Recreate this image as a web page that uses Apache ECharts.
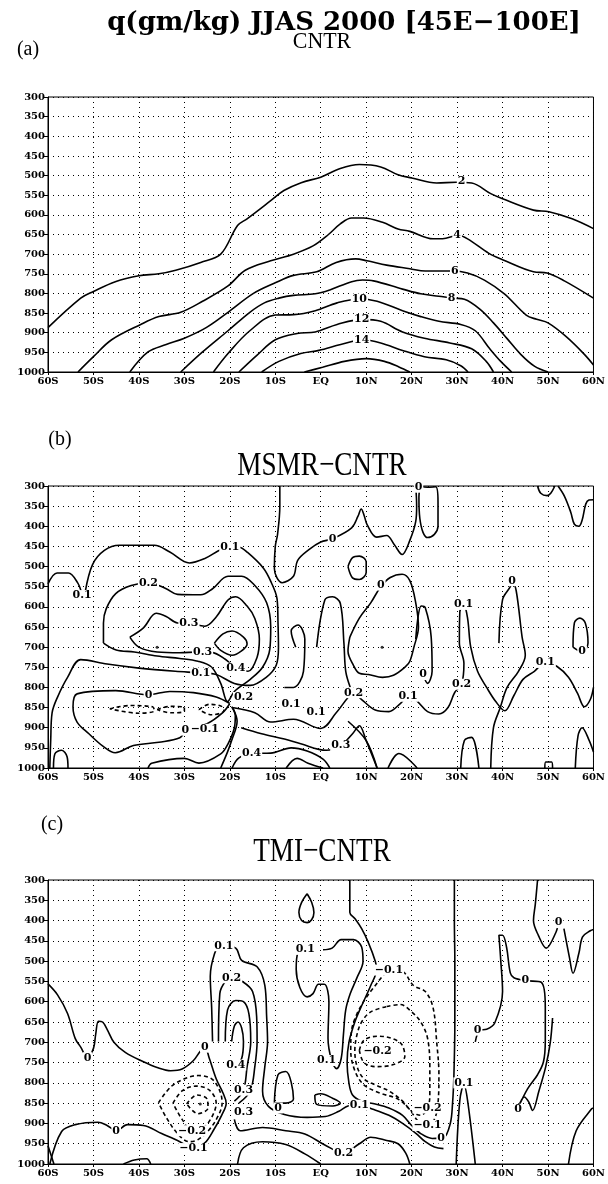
<!DOCTYPE html>
<html><head><meta charset="utf-8">
<script src="https://cdn.jsdelivr.net/npm/echarts@6/dist/echarts.min.js"></script>
<style>html,body{margin:0;padding:0;background:#fff}#c{width:608px;height:1184px}</style>
</head><body><div id="c"></div>
<script>
// ---------- tick labels ----------
const xTickLabels = ['60S','50S','40S','30S','20S','10S','EQ','10N','20N','30N','40N','50N','60N'];
const yTickLabels = ['300','350','400','450','500','550','600','650','700','750','800','850','900','950','1000'];
const mainTitle = 'q(gm/kg) JJAS 2000 [45E\u2212100E]';
const panelTitles = ['CNTR','MSMR\u2212CNTR','TMI\u2212CNTR'];
const panelTags = ['(a)','(b)','(c)'];

// ---------- panel (a) CNTR contours [lat, hPa] ----------
const a_q2 = [[-60,887],[-52.8,812],[-50,795],[-45.2,770],[-40,755],[-35.6,750],[-31.9,741],[-26.4,721],[-22,700],[-18.3,627],[-16.2,610],[-11,564],[-8.1,538],[-4.3,518],[0,504],[4.3,482],[8.5,472],[13.2,478],[17,498],[20,506],[25.5,519],[29.8,517],[33.2,519],[37.4,546],[40,559],[46.8,588],[50.2,592],[55.3,610],[60,635]];
const a_q4 = [[-53.4,1000],[-50,961],[-46,918],[-39.6,879],[-35.6,859],[-30.8,848],[-26,820],[-20.4,781],[-16.6,741],[-11,717],[-6,700],[-1.7,679],[1.7,650],[4.3,623],[6.8,608],[9.4,608],[13.6,619],[17,636],[19.6,642],[24.7,661],[26.8,661],[30.2,652],[32.3,661],[37,698],[40,714],[46.8,745],[49.8,748],[53.6,768],[60,812]];
const a_q6 = [[-42,1000],[-38,949],[-34,930],[-30,914],[-25.2,887],[-20.4,848],[-14.8,800],[-10,773],[-6,754],[-0.9,745],[3.4,721],[7.7,712],[10.2,717],[14.5,728],[19.6,737],[23,743],[29,743],[32.3,748],[36,766],[40.4,801],[45.2,855],[47.5,866],[50,875],[54,910],[58,955],[60,982]];
const a_q8 = [[-30.8,1000],[-26,949],[-20.4,895],[-15.6,848],[-12.4,824],[-9.2,812],[-6,805],[-1.2,801],[2,791],[6.8,770],[9.2,766],[11.6,768],[18,789],[22,801],[26,807],[29.2,812],[31.6,815],[35,840],[38,875],[41,915],[44,955],[47,985],[50,1000]];
const a_q10 = [[-23.6,1000],[-20.4,953],[-15.6,895],[-10,855],[-6,854],[-1.2,844],[3.6,824],[8.4,814],[12.4,820],[18,844],[22,859],[26,871],[30.8,879],[34,895],[37.2,941],[39.6,973],[42,1000]];
const a_q12 = [[-18,1000],[-14,957],[-10,918],[-5.2,902],[-1.2,898],[3.6,879],[9.2,866],[13.2,871],[18,898],[22.8,914],[28.4,926],[33.2,941],[36.4,973],[38,1000]];
const a_q14 = [[-13,1000],[-9.2,973],[-4.4,953],[-0.4,945],[4.4,930],[9.2,918],[13.2,926],[18,945],[22.8,961],[27.6,969],[30.8,984],[32.4,1000]];
const a_q16 = [[-3.6,1000],[0.4,988],[5.2,973],[10,966],[14,973],[17.2,987],[19.6,1000]];
const a_labels = [[31,515,'2'],[30,652,'4'],[29.5,743,'6'],[28.8,812,'8'],[8.5,814,'10'],[9,866,'12'],[9,918,'14']];

// ---------- panel (b) MSMR-CNTR contours ----------
const b_p01a = [[-60,543],[-58,516],[-55.5,516],[-53.5,540],[-52.6,566]];
const b_p01b = [[-51.8,562],[-50.2,495],[-47.6,460],[-44.3,447],[-36.6,447],[-33.2,464],[-28.9,491],[-25.5,480],[-21.7,457],[-18,452],[-16.1,465],[-12.6,504],[-10.9,539],[-9.6,581],[-9.4,640],[-9.3,700],[-9.8,745],[-12,775],[-15.5,795],[-19,790],[-23,768],[-26.4,764],[-32,760],[-40,752],[-47,742],[-52.8,731],[-55.7,775],[-57.9,824],[-59.1,863],[-59.4,930],[-59.6,1000]];
const b_p02 = [[-47.8,690],[-47.8,640],[-47.2,605],[-45.1,567],[-41.7,547],[-37.9,540],[-34,555],[-31.5,569],[-26.4,570],[-23.8,555],[-20.4,524],[-17.4,524],[-14.5,547],[-11.9,590],[-11,650],[-11.2,705],[-12.8,750],[-15.5,780],[-19,810],[-20.5,835],[-22,790],[-24,750],[-27,735],[-31,728],[-36,722],[-41,712],[-45,707],[-47.8,690]];
const b_p03 = [[-42,675],[-39,652],[-36.2,616],[-34,624],[-31.5,640],[-29,641],[-25.5,648],[-23,625],[-20.4,583],[-18.7,575],[-16.2,598],[-14.5,629],[-13.5,680],[-14,725],[-16,760],[-18.7,752],[-21,730],[-24,713],[-27,712],[-31,714],[-36,712],[-40,700],[-42,675]];
const b_p04 = [[-23.4,690],[-21.5,667],[-19.5,660],[-17,675],[-16.2,692],[-17.5,710],[-19.5,720],[-22,708],[-23.4,690]];
const b_z0L = [[-20,840],[-23,824],[-28,813],[-33.2,810],[-37.9,818],[-45.1,808],[-53.6,816],[-54.5,848],[-53.6,886],[-51,915],[-48,945],[-45.2,962],[-41.2,944],[-35.6,936],[-31,925],[-29.5,905],[-25,890],[-21.5,862],[-20,840]];
const b_m01a = [[-46.4,853],[-42,845],[-37,848],[-36.6,858],[-40,864],[-46.4,853]];
const b_m01b = [[-36,855],[-33,847],[-30,850],[-30,859],[-33,863],[-36,855]];
const b_m01c = [[-26.8,855],[-24.5,842],[-21.8,847],[-21.3,858],[-24,868],[-26.8,855]];
const b_m01d = [[-27,900],[-25.5,894],[-24,897],[-25.5,906],[-27,900]];
const b_p02b = [[-38,1000],[-37.2,988],[-30,976],[-26.8,988],[-22,965],[-20.4,940],[-19,900],[-18.8,870],[-19.6,848]];
const b_p03b = [[-22,1000],[-20.5,960],[-19.6,932],[-18.4,884],[-19.3,852]];
const b_p03c = [[-19.5,850],[-14.5,863],[-11,886],[-6,879],[0,902],[3.4,863],[6,825],[7.2,813],[9,830],[12,856],[15,860],[17.5,840],[19.2,822],[21,832],[23.5,860],[26,866],[28,850],[29.5,812],[31,792],[31.5,740],[30.5,690],[30.6,612],[31.5,597],[32.3,628],[33,700],[34.5,760],[36.5,800],[38.5,835],[40.5,858],[42.5,820],[44.5,780],[47,760],[49.4,738],[52,748],[54.5,775],[56.5,815],[58,848],[59.3,830],[60,800]];
const b_p04b = [[-19.5,1000],[-18,975],[-15,964],[-11,963],[-6.5,950],[-3,958],[0.5,978],[2,1000]];
const b_p03d = [[-17.5,900],[-13,915],[-8,928],[-4.4,940],[1.2,956],[4.4,944],[7,915],[8.5,895],[10,932],[12.4,1000]];
const b_p05 = [[-7.6,1000],[-5.2,976],[-2.8,988],[0.5,1000]];
const b_z0top = [[-9,300],[-9,350],[-9.5,420],[-10,450],[-10.2,505],[-8.5,540],[-6,524],[-5.1,485],[-2.6,458],[0,439],[2.6,431],[6.8,404],[8.2,375],[8.9,357],[9.6,375],[10.2,396],[12.3,427],[14.5,423],[16.2,446],[17.9,470],[19.6,435],[20.9,388],[21.1,350],[20.9,300]];
const b_z0top2 = [[21.8,300],[23.5,303],[25.3,302],[25.8,340],[25.8,400],[25,420],[23.5,428],[22.5,415],[21.8,380],[21.6,330],[21.8,300]];
const b_z0tr1 = [[47.7,300],[48.4,318],[49.8,324],[50.6,318],[51.5,300]];
const b_z0tr2 = [[52.2,300],[53.6,325],[55,365],[55.8,395],[56.8,400],[57.5,385],[58.3,345],[59,335],[60,334]];
const b_ell = [[6,500],[7,478],[8.5,474],[10,488],[10,515],[8.5,532],[7,528],[6,500]];
const b_z0mid = [[6.4,675],[8.5,628],[11,590],[13.2,550],[15.3,527],[17.9,519],[19.6,535],[20.9,590],[21.5,650],[20.5,700],[19.6,735],[18.7,748],[16,770],[13.6,775],[10.5,768],[8.5,765],[7.2,745],[6,710],[6.4,675]];
const b_s1 = [[-0.9,700],[0.9,583],[2.6,575],[4.3,591],[5.1,690],[5.5,760],[6.5,800]];
const b_s2 = [[20.9,680],[22.1,598],[23,602],[24.3,675],[24.5,760],[23.5,790],[22.5,768]];
const b_s3 = [[39.2,690],[40,582],[41.7,550],[42.1,535],[43,560],[44.3,675],[45,720],[43.5,760],[41,800],[39.5,850],[38,900],[37.4,1000]];
const b_s4 = [[55.5,700],[55.8,640],[57,628],[58.2,640],[58.8,690],[57.5,712],[55.5,700]];
const b_s5 = [[-5.5,700],[-6.5,660],[-5,645],[-3.5,680],[-3.8,760],[-6,800],[-8,800]];
const b_bl = [[-58.8,1000],[-58.5,965],[-57,956],[-55.8,972],[-55.6,1000]];
const b_br1 = [[14.8,1000],[17.2,964],[21.2,1000]];
const b_br2 = [[30.8,1000],[31.6,932],[33.2,924],[34.8,1000]];
const b_br3 = [[6,884],[10,932],[12.4,1000]];
const b_br4 = [[49.3,1000],[49.5,985],[50.8,985],[51,1000]];
const b_br5 = [[56,1000],[56.6,920],[57.5,900],[59,930],[60,960]];
const b_labels = [[-52.5,572,'0.1'],[-37.9,540,'0.2'],[-20,452,'0.1'],[-29,641,'0.3'],[-26,712,'0.3'],[-18.7,752,'0.4'],[-26.4,764,'0.1'],[-37.9,818,'0'],[-17,825,'0.2'],[-29.8,906,'0'],[-25.5,904,'\u22120.1'],[-6.5,842,'0.1'],[-1,862,'0.1'],[4.4,944,'0.3'],[-15.2,964,'0.4'],[2.6,431,'0'],[13.2,546,'0'],[21.5,303,'0'],[7.2,813,'0.2'],[19.2,822,'0.1'],[31,792,'0.2'],[31.4,594,'0.1'],[22.5,768,'0'],[42.1,535,'0'],[49.4,738,'0.1'],[57.5,710,'0']];
const b_dots = [[-36,700],[13.5,700]];

// ---------- panel (c) TMI-CNTR contours ----------
const c_z0a = [[-60,556],[-57.9,583],[-55.7,629],[-54,691],[-52.8,712],[-51.3,738],[-50,715],[-49.5,680],[-48.9,648],[-48,650],[-47,668],[-45.5,700],[-43,725],[-39,748],[-36,762],[-33,770],[-30.5,766],[-28,745],[-26.5,722],[-25.5,712],[-24.5,740],[-23,790],[-21.5,825],[-20.8,850],[-21.8,880],[-23.5,915],[-25.5,948],[-28,962],[-31,945],[-35,925],[-39,905],[-42.5,903],[-45,918],[-47,905],[-49,897],[-54,903],[-57,920],[-59.6,1000]];
const c_m01 = [[-35.7,849],[-33,810],[-30,790],[-27,782],[-24,790],[-22.2,820],[-21.7,850],[-22.5,880],[-24.5,915],[-27,940],[-29,945],[-31.5,925],[-34,885],[-35.7,849]];
const c_m02 = [[-32.5,850],[-30.5,820],[-27.5,808],[-24.5,818],[-23,850],[-24,885],[-26,912],[-28.3,918],[-30.5,890],[-32.5,850]];
const c_m03 = [[-29.5,852],[-27.2,830],[-25,840],[-24.8,862],[-27,876],[-29.5,852]];
const c_p01 = [[-23.8,698],[-24,614],[-24.3,537],[-23.4,483],[-22.1,460],[-18.7,468],[-17.4,498],[-14,514],[-12.3,560],[-11.9,637],[-11.7,698],[-12.3,760],[-12.8,820],[-11.5,858],[-8,878],[-3,885],[1,883],[4,870],[6,857],[8.5,855],[11.5,865],[15,880],[18,900],[21,925],[23,945],[25,958],[27,962]];
const c_p02 = [[-22.5,698],[-22.2,580],[-21,550],[-19.6,541],[-17,552],[-15,575],[-14.1,637],[-14,698],[-14.5,760],[-15.5,820],[-18,850]];
const c_p03 = [[-21,698],[-20.5,620],[-18.7,597],[-17,600],[-15.8,630],[-15.4,698],[-16.2,760],[-17,818],[-19,845]];
const c_p04 = [[-19.6,698],[-19,660],[-18.2,650],[-17.4,665],[-17,698],[-17.4,740],[-18.7,756]];
const c_p02b = [[-19,890],[-17.7,918],[-12.8,910],[-7.7,918],[-3.5,926],[0.9,953],[5,973],[8.5,950],[11,934],[14.5,942],[17,950],[18.7,973],[19.6,1000]];
const c_p03b = [[-18.3,1000],[-17,960],[-12.8,945],[-7.7,952],[-3.5,975],[0,1000]];
const c_tear = [[-3,334],[-2,355],[-1.5,380],[-2,398],[-3,405],[-4.2,400],[-4.8,380],[-4.2,355],[-3,334]];
const c_z0b = [[6.4,300],[6.4,380],[7.5,395],[9,420],[10.5,455],[12,500],[12.3,520],[11,560],[9,610],[7.5,650],[6.2,700],[5.8,750],[6.2,800],[7,830],[9,845],[12,852],[15,862],[18,880],[20,905],[22,925],[24.5,937],[27,935],[28.5,900],[29,850],[29.3,780],[29.5,650],[29.5,500],[29.4,400],[29.4,300]];
const c_m01b = [[15,522],[17.9,525],[20.4,560],[23,575],[24.7,614],[25.5,698],[26,780],[25.8,850],[25,890],[23.5,905],[21.5,895],[19.5,865],[17,840],[13,825],[9.5,805],[7.5,770],[6.6,720],[6.8,670],[8,629],[10,590],[12,560],[13.6,537],[15,522]];
const c_m02b = [[14.5,612],[17.5,607],[20,625],[22,650],[23.5,690],[24,760],[24,830],[23.5,862],[22,880],[20,870],[18,845],[15,820],[12,805],[9.5,790],[8,760],[7.5,720],[8,680],[9,650],[11,625],[14.5,612]];
const c_m03b = [[8.5,720],[9.5,695],[12.5,685],[15.5,690],[17.8,705],[18.5,735],[16,755],[12,760],[9.5,750],[8.5,720]];
const c_p01c = [[-3,472],[-5,478],[-5.4,520],[-4.6,565],[-3,588],[-1.7,580],[-0.5,557],[0.8,557],[1.8,600],[1.6,690],[2.4,745],[3.5,765],[4.5,740],[5,680],[5.5,620],[6.5,580],[8,540],[9.3,500],[9,465],[7.2,447],[4.5,447],[2.5,468],[0.5,472]];
const c_tri = [[-10.2,850],[-9.4,780],[-7.7,772],[-6,840],[-7.7,850],[-10.2,850]];
const c_small = [[-1.3,830],[0,827],[2.6,838],[4.3,850],[2.6,857],[-0.9,853],[-1.3,830]];
const c_spike = [[29.8,1000],[30.6,843],[31.5,804],[32.3,843],[34,1000]];
const c_z0r = [[34,699],[35,670],[36.5,668],[38.3,652],[40,575],[39.6,498],[39.2,436],[40,436],[40.9,467],[41.7,529],[42.5,541],[45,548],[48.5,552],[49.4,614],[49.4,698],[49,748],[47.7,780],[45.5,815],[43.4,862],[44.8,835],[45.8,848],[46.6,868],[48,820],[49.5,760],[50.5,700],[51,640]];
const c_z0tr = [[47.7,300],[47.2,360],[46.8,400],[47.9,437],[49.6,468],[51.7,430],[52.3,405]];
const c_z0tr2 = [[53.5,420],[54.7,490],[55.5,530],[56.8,480],[57.6,440],[59.3,425],[60,422]];
const c_br = [[54.5,1000],[56.2,918],[59.6,864],[60,862]];
const c_bl1 = [[-43.4,1000],[-41,990],[-38.3,987],[-37.4,1000]];
const c_bl2 = [[-60,955],[-58.7,1000]];
const c_labels = [[-21.3,462,'0.1'],[-19.6,541,'0.2'],[-3.4,471,'0.1'],[-18.7,756,'0.4'],[-17,818,'0.3'],[-17,872,'0.3'],[-51.3,738,'0'],[-25.5,712,'0'],[-45,918,'0'],[-28.3,918,'\u22120.2'],[-28,962,'\u22120.1'],[-9.4,862,'0'],[8.5,855,'0.1'],[5,973,'0.2'],[1.3,745,'0.1'],[15,522,'\u22120.1'],[12.5,722,'\u22120.2'],[23.5,862,'\u22120.2'],[23.5,905,'\u22120.1'],[26.5,936,'0'],[31.5,800,'0.1'],[34.5,670,'0'],[45,548,'0'],[43.4,865,'0'],[52.3,405,'0']];
const c_dots = [[-26.5,852]];

// ---------- build ----------
const panels = [
  {top:97, h:275, solid:[a_q2,a_q4,a_q6,a_q8,a_q10,a_q12,a_q14,a_q16], dashed:[], labels:a_labels, dots:[]},
  {top:486, h:282, solid:[b_p01a,b_p01b,b_p02,b_p03,b_p04,b_z0L,b_p02b,b_p03b,b_p03c,b_p04b,b_p03d,b_p05,b_z0top,b_z0top2,b_z0tr1,b_z0tr2,b_ell,b_z0mid,b_s1,b_s2,b_s3,b_s4,b_s5,b_bl,b_br1,b_br2,b_br3,b_br4,b_br5], dashed:[b_m01a,b_m01b,b_m01c,b_m01d], labels:b_labels, dots:b_dots},
  {top:880, h:284, solid:[c_z0a,c_p01,c_p02,c_p03,c_p04,c_p02b,c_p03b,c_tear,c_z0b,c_p01c,c_tri,c_small,c_spike,c_z0r,c_z0tr,c_z0tr2,c_br,c_bl1,c_bl2], dashed:[c_m01,c_m02,c_m03,c_m01b,c_m02b,c_m03b], labels:c_labels, dots:c_dots}
];
const LEFT = 48, WIDTH = 548;
const axisFont = {fontFamily:'DejaVu Serif', fontWeight:'bold', fontSize:10, color:'#000'};
const grid = [], xAxis = [], yAxis = [], series = [];
panels.forEach((P, i) => {
  grid.push({left:LEFT, top:P.top, width:WIDTH, height:P.h, show:true, borderColor:'#000', borderWidth:1, backgroundColor:'transparent'});
  xAxis.push({type:'value', gridIndex:i, min:-60, max:60, interval:10,
    axisLine:{show:true, onZero:false, lineStyle:{color:'#000', width:1}},
    axisTick:{show:true, length:3, lineStyle:{color:'#000'}},
    axisLabel:Object.assign({margin:4, formatter:v => xTickLabels[Math.round((v+60)/10)]}, axisFont),
    splitLine:{show:true, lineStyle:{color:'#000', width:1, type:[1,4]}}});
  yAxis.push({type:'value', gridIndex:i, min:300, max:1000, interval:50, inverse:true,
    axisLine:{show:true, onZero:false, lineStyle:{color:'#000', width:1}},
    axisTick:{show:true, length:4, lineStyle:{color:'#000'}},
    axisLabel:Object.assign({margin:3, formatter:v => yTickLabels[Math.round((v-300)/50)]}, axisFont),
    splitLine:{show:true, lineStyle:{color:'#000', width:1, type:[1,4]}}});
  const mk = (d, dashed) => ({type:'line', xAxisIndex:i, yAxisIndex:i, data:d, smooth:0.35, symbol:'none', silent:true, animation:false, clip:true, z:3,
    lineStyle:{color:'#000', width:1.6, type: dashed ? [4,3] : 'solid'}});
  P.solid.forEach(d => series.push(mk(d,false)));
  P.dashed.forEach(d => series.push(mk(d,true)));
  series.push({type:'scatter', xAxisIndex:i, yAxisIndex:i, data:P.dots, symbolSize:3, itemStyle:{color:'#000'}, silent:true, animation:false, z:4});
  series.push({type:'scatter', xAxisIndex:i, yAxisIndex:i, data:P.labels, symbolSize:0.1, itemStyle:{color:'rgba(0,0,0,0)'}, silent:true, animation:false, z:5,
    label:{show:true, position:'inside', formatter:p => p.data[2], fontFamily:'DejaVu Serif', fontWeight:'bold', fontSize:11, color:'#000', backgroundColor:'#fff', padding:[0,1], opacity:1}});
});
const graphic = [
  {type:'text', x:344, y:23, style:{text:mainTitle, font:'bold 26px "DejaVu Serif"', fill:'#000', align:'center', verticalAlign:'middle'}},
];
const titleSpecs = [
  {text:panelTitles[0], cx:322, cy:42, size:23, sx:0.95},
  {text:panelTitles[1], cx:322, cy:466, size:34, sx:0.8},
  {text:panelTitles[2], cx:322, cy:852, size:34, sx:0.8}
];
titleSpecs.forEach(t => graphic.push({type:'text', x:t.cx, y:t.cy, scaleX:t.sx, style:{text:t.text, font:t.size+'px "Liberation Serif"', fill:'#000', align:'center', verticalAlign:'middle'}}));
const tagSpecs = [[28,50],[60,440],[52,825]];
tagSpecs.forEach((p,k) => graphic.push({type:'text', x:p[0], y:p[1], style:{text:panelTags[k], font:'20px "Liberation Serif"', fill:'#000', align:'center', verticalAlign:'middle'}}));

const chart = echarts.init(document.getElementById('c'), null, {renderer:'canvas'});
chart.setOption({animation:false, backgroundColor:'#fff', grid, xAxis, yAxis, series, graphic});
</script>
</body></html>
